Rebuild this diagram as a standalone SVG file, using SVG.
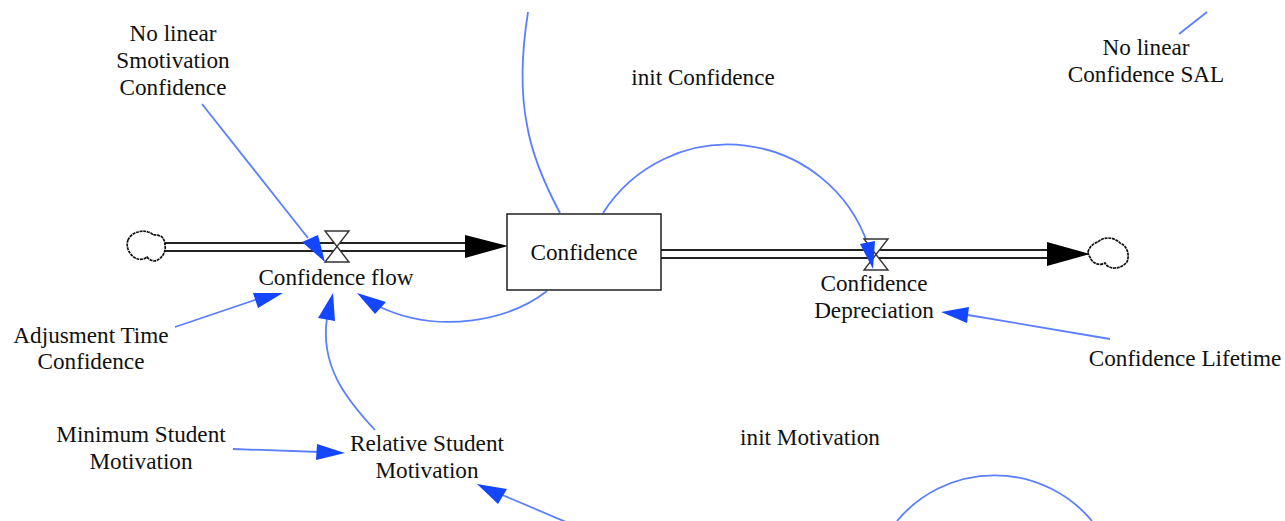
<svg xmlns="http://www.w3.org/2000/svg" width="1285" height="521" viewBox="0 0 1285 521">
<style>
text{font-family:"Liberation Serif","Times New Roman",serif;font-size:23.2px;fill:#111;text-anchor:middle}
.link{fill:none;stroke:#5b7fff;stroke-width:1.8}
.head{fill:#1446ff;stroke:none}
.pipe{stroke:#222;stroke-width:1.8;fill:none}
.cloud{fill:#fff;stroke:#111;stroke-width:1.7;stroke-dasharray:3 .7}
.valve{fill:#fff;stroke:#333;stroke-width:1.4}
</style>
<rect width="1285" height="521" fill="#fff"/>
<g id="connectors">
<g id="flows">
<path class="pipe" d="M165 243H470M165 251H470"/>
<path d="M465 235L508 246L465 258Z" fill="#000"/>
<path class="pipe" d="M661 250H1050M661 258H1050"/>
<path d="M1047 242L1090 254L1047 266Z" fill="#000"/>
</g>
<g id="links">
<path class="link" d="M528 12C522 50 520 90 527 125C532 155 545 185 560 213"/>
<path class="link" d="M603 213A148 148 0 0 1 868 245"/>
<path class="link" d="M202 104L308 238"/>
<path class="link" d="M175 327L258 299"/>
<path class="link" d="M375 430C345 398 320 365 327 318"/>
<path class="link" d="M547 291C510 320 440 335 380 307"/>
<path class="link" d="M233 449L320 452"/>
<path class="link" d="M566 522L500 494"/>
<path class="link" d="M1110 339L968 315"/>
<path class="link" d="M1207 12L1179 34"/>
<path class="link" d="M897 521A127 127 0 0 1 1092 521"/>
</g>
</g>
<g id="cloud-source"><path class="cloud" d="M128 240A14 14 0 0 1 138 232A14 14 0 0 1 148 232A8 8 0 0 1 153 235A14 14 0 0 1 162 237A12 12 0 0 1 165 245A14 14 0 0 1 163 255A14 14 0 0 1 155 261A10 10 0 0 1 147 257A10 10 0 0 1 138 259A14 14 0 0 1 130 253A14 14 0 0 1 128 240Z"/></g>
<g id="cloud-sink"><path class="cloud" d="M1088 252A14 14 0 0 1 1098 242A14 14 0 0 1 1108 238A16 16 0 0 1 1120 243A12 12 0 0 1 1127 250A16 16 0 0 1 1127 262A16 16 0 0 1 1115 268A10 10 0 0 1 1105 263A10 10 0 0 1 1095 263A10 10 0 0 1 1090 257A8 8 0 0 1 1088 252Z"/></g>
<g id="valve-confidence-flow"><path class="valve" d="M325 231H349L325 262H349Z"/></g>
<g id="valve-confidence-depreciation"><path class="valve" d="M864 239H888L864 270H888Z"/></g>
<g id="arrowheads">
<path class="head" d="M325 262L302 242L318 235Z"/>
<path class="head" d="M283 293L253 293L258 308Z"/>
<path class="head" d="M333 293L318 318L335 321Z"/>
<path class="head" d="M357 293L386 302L375 314Z"/>
<path class="head" d="M345 453L317 444L316 460Z"/>
<path class="head" d="M477 484L507 489L498 504Z"/>
<path class="head" d="M941 312L969 307L967 323Z"/>
<path class="head" d="M873 269L860 244L875 241Z"/>
</g>
<g id="node-confidence"><rect x="507" y="214" width="154" height="76" fill="#fff" stroke="#111" stroke-width="1.4"/><text x="584" y="260">Confidence</text></g>
<g id="node-no-linear-smotivation"><text x="173" y="41">No linear</text><text x="173" y="68">Smotivation</text><text x="173" y="95">Confidence</text></g>
<g id="node-init-confidence"><text x="703" y="85">init Confidence</text></g>
<g id="node-no-linear-sal"><text x="1146" y="55">No linear</text><text x="1146" y="82">Confidence SAL</text></g>
<g id="node-confidence-flow"><text x="336" y="285">Confidence flow</text></g>
<g id="node-depreciation"><text x="874" y="291">Confidence</text><text x="874" y="318">Depreciation</text></g>
<g id="node-adjustment"><text x="91" y="343">Adjusment Time</text><text x="91" y="369">Confidence</text></g>
<g id="node-lifetime"><text x="1185" y="366">Confidence Lifetime</text></g>
<g id="node-minimum"><text x="141" y="442">Minimum Student</text><text x="141" y="469">Motivation</text></g>
<g id="node-relative"><text x="427" y="451">Relative Student</text><text x="427" y="478">Motivation</text></g>
<g id="node-init-motivation"><text x="810" y="445">init Motivation</text></g>
</svg>
